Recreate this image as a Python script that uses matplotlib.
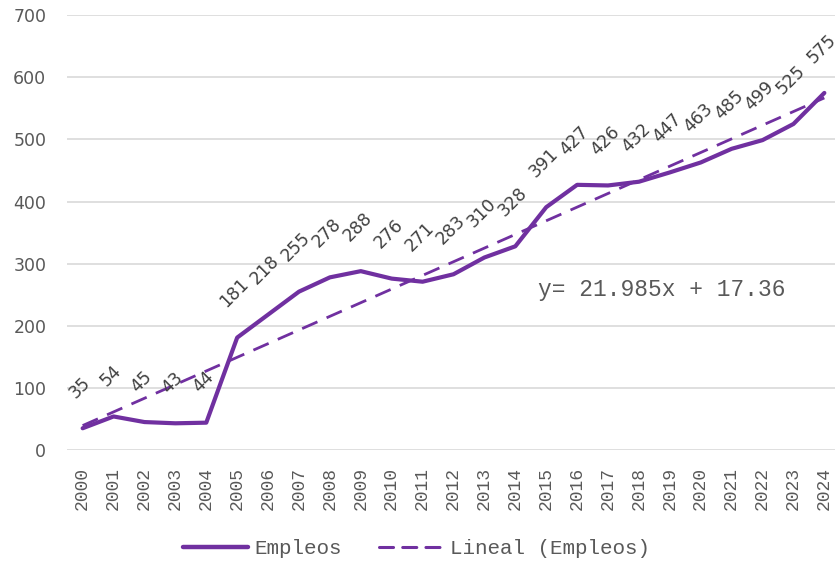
import matplotlib
matplotlib.use("Agg")
import matplotlib.pyplot as plt
from matplotlib.lines import Line2D
import numpy as np

years = [str(y) for y in range(2000, 2025)]
empleos = [35, 54, 45, 43, 44, 181, 218, 255, 278, 288, 276, 271, 283,
           310, 328, 391, 427, 426, 432, 447, 463, 485, 499, 525, 575]
trend_slope = 21.985
trend_intercept = 17.36
yticks = [0, 100, 200, 300, 400, 500, 600, 700]

purple = "#7030A0"
W, H = 835, 563
fig = plt.figure(figsize=(W / 100, H / 100), dpi=100)
left = 67.2 / W
bottom = (H - 450) / H
ax = fig.add_axes([left, bottom, 772.6 / W, (450 - 15.3) / H])

x = np.arange(len(years))
ax.plot(x, empleos, color=purple, lw=3.0, solid_capstyle="round",
        solid_joinstyle="round", zorder=3)
xt = x + 1
trend = trend_slope * xt + trend_intercept
ax.plot(x, trend, color=purple, lw=2.0, linestyle=(0, (6, 3.6)), zorder=2)

for xi, v in zip(x, empleos):
    ax.annotate(str(v), (xi, v), xytext=(-2, 19), textcoords="offset points",
                ha="center", va="bottom", rotation=45, fontsize=12.5,
                color="#404040", family="DejaVu Sans", zorder=4,
                annotation_clip=False)

ax.set_xlim(-0.5, len(years) - 0.5)
ax.set_ylim(0, 700)
ax.set_yticks(yticks)
ax.set_xticks(x)
ax.set_xticklabels(years, rotation=90, family="Liberation Mono", fontsize=13,
                   color="#595959")
for lab in ax.get_yticklabels():
    lab.set_family("DejaVu Sans")
    lab.set_fontsize(12.5)
    lab.set_color("#595959")
ax.tick_params(axis="both", length=0)
ax.tick_params(axis="y", pad=15)
ax.tick_params(axis="x", pad=12)
ax.grid(axis="y", color="#d9d9d9", lw=1.2)
ax.set_axisbelow(True)
for s in ax.spines.values():
    s.set_visible(False)

ax.text(14.75, 258, "y= 21.985x + 17.36", family="Liberation Mono",
        fontsize=16.5, color="#595959", ha="left", va="center")

handles = [
    Line2D([], [], color=purple, lw=3.2, solid_capstyle="round"),
    Line2D([], [], color=purple, lw=2.2, linestyle=(0, (4.6, 3.0)),
           dash_capstyle="round"),
]
leg = fig.legend(handles, ["Empleos", "Lineal (Empleos)"], loc="center",
                 bbox_to_anchor=(0.499, 0.025), ncol=2, frameon=False,
                 prop={"family": "Liberation Mono", "size": 15},
                 handlelength=3.1, handletextpad=0.3, columnspacing=1.8)
for t in leg.get_texts():
    t.set_color("#595959")

fig.savefig("out.png", dpi=100)
